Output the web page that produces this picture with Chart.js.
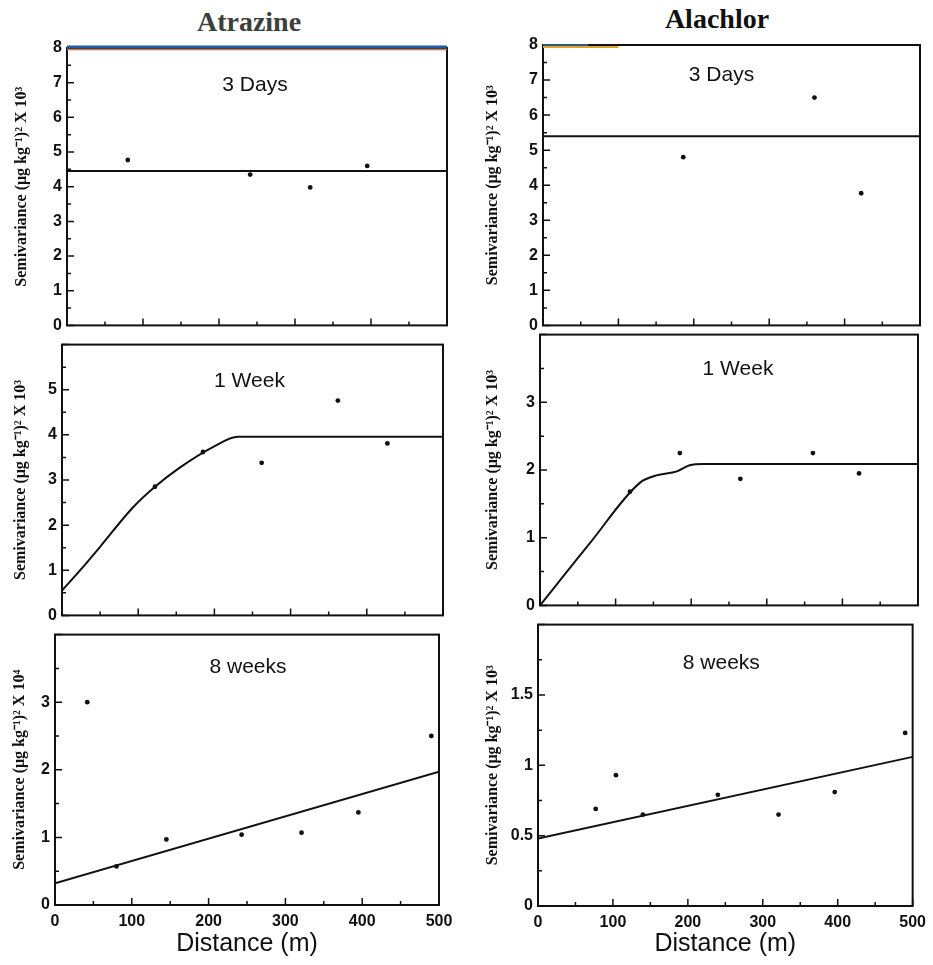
<!DOCTYPE html>
<html>
<head>
<meta charset="utf-8">
<script src="https://cdn.jsdelivr.net/npm/chart.js@4"></script>
<style>
  body { margin: 0; background: #fff; }
  #page { position: relative; width: 933px; height: 965px; overflow: hidden; background: #fff; }
  .panel { position: absolute; }
  .compound {
    position: absolute; transform: translateX(-50%); white-space: nowrap;
    font-family: "Liberation Serif", serif; font-weight: bold; font-size: 28px; line-height: 32px;
  }
</style>
</head>
<body>
<div id="page">
  <div class="compound" style="left:249px; top:6px; color:#3b403d">Atrazine</div>
  <div class="compound" style="left:717px; top:3px; color:#111">Alachlor</div>

  <div class="panel" style="left:0; top:0; width:465px; height:340px"><canvas id="atr3d"></canvas></div>
  <div class="panel" style="left:0; top:330px; width:465px; height:300px"><canvas id="atr1w"></canvas></div>
  <div class="panel" style="left:0; top:620px; width:465px; height:345px"><canvas id="atr8w"></canvas></div>

  <div class="panel" style="left:466px; top:0; width:467px; height:340px"><canvas id="ala3d"></canvas></div>
  <div class="panel" style="left:466px; top:320px; width:467px; height:300px"><canvas id="ala1w"></canvas></div>
  <div class="panel" style="left:466px; top:610px; width:467px; height:355px"><canvas id="ala8w"></canvas></div>
</div>

<script>
// distance ticks (m)
const xTickLabels = [0, 100, 200, 300, 400, 500];

// Atrazine, 3 days
const atr3dDist = [80, 241, 320, 395];
const atr3dSemi = [4.77, 4.35, 3.98, 4.6];
const atr3dModelDist = [0, 500];
const atr3dModelSemi = [4.45, 4.45];

// Atrazine, 1 week
const atr1wDist = [122, 185, 262, 362, 427];
const atr1wSemi = [2.85, 3.62, 3.38, 4.76, 3.81];
const atr1wModelDist = [0, 28, 50, 93, 122, 155, 198, 231, 500];
const atr1wModelSemi = [0.55, 1.08, 1.52, 2.39, 2.85, 3.28, 3.73, 3.96, 3.96];

// Atrazine, 8 weeks
const atr8wDist = [42, 80, 145, 243, 321, 395, 490];
const atr8wSemi = [3.0, 0.57, 0.97, 1.04, 1.07, 1.37, 2.5];
const atr8wModelDist = [0, 500];
const atr8wModelSemi = [0.32, 1.97];

// Alachlor, 3 days
const ala3dDist = [186, 360, 422];
const ala3dSemi = [4.8, 6.5, 3.77];
const ala3dModelDist = [0, 500];
const ala3dModelSemi = [5.4, 5.4];

// Alachlor, 1 week
const ala1wDist = [119, 185, 265, 361, 422];
const ala1wSemi = [1.68, 2.25, 1.87, 2.25, 1.95];
const ala1wModelDist = [0, 66, 132, 154, 181, 198, 216, 500];
const ala1wModelSemi = [0, 0.92, 1.81, 1.92, 1.98, 2.07, 2.09, 2.09];

// Alachlor, 8 weeks
const ala8wDist = [77, 104, 140, 240, 321, 396, 490];
const ala8wSemi = [0.69, 0.93, 0.65, 0.79, 0.65, 0.81, 1.23];
const ala8wModelDist = [0, 500];
const ala8wModelSemi = [0.48, 1.06];

const pts = (xs, ys) => xs.map((x, i) => ({ x: x, y: ys[i] }));
const near = (v, step) => Math.abs(v / step - Math.round(v / step)) < 1e-6;

// box, inward ticks and the panel caption
const framePlugin = {
  id: 'frame',
  afterDatasetsDraw(chart, args, opts) {
    const { ctx, chartArea: a } = chart;
    const xs = chart.scales.x, ys = chart.scales.y;
    ctx.save();
    ctx.strokeStyle = '#111';
    ctx.lineWidth = 2;
    ctx.strokeRect(a.left, a.top, a.right - a.left, a.bottom - a.top);

    ctx.lineWidth = 1.5;
    ctx.beginPath();
    ys.ticks.forEach(t => {
      const py = ys.getPixelForValue(t.value);
      const len = near(t.value, opts.yMajor) ? 7 : 4;
      ctx.moveTo(a.left, py);
      ctx.lineTo(a.left + len, py);
    });
    xs.ticks.forEach(t => {
      const px = xs.getPixelForValue(t.value);
      const len = near(t.value, 100) ? 7 : 4;
      ctx.moveTo(px, a.bottom);
      ctx.lineTo(px, a.bottom - len);
    });
    ctx.stroke();

    (opts.stripes || []).forEach(s => {
      ctx.strokeStyle = s.color;
      ctx.lineWidth = s.width;
      ctx.beginPath();
      ctx.moveTo(a.left + (a.right - a.left) * s.from, a.top + s.offset);
      ctx.lineTo(a.left + (a.right - a.left) * s.to, a.top + s.offset);
      ctx.stroke();
    });

    ctx.fillStyle = '#111';
    ctx.font = '21px "Liberation Sans", Arial, sans-serif';
    ctx.textAlign = 'center';
    ctx.textBaseline = 'middle';
    ctx.fillText(opts.text, (a.left + a.right) / 2 + opts.dx, a.top + opts.dy);
    ctx.restore();
  }
};

function makePanel(id, p) {
  const ctx = document.getElementById(id).getContext('2d');
  return new Chart(ctx, {
    type: 'scatter',
    data: {
      datasets: [
        {
          data: pts(p.dist, p.semi),
          pointRadius: 2.4,
          pointBackgroundColor: '#111',
          pointBorderWidth: 0
        },
        {
          data: pts(p.modelDist, p.modelSemi),
          showLine: true,
          borderColor: '#111',
          borderWidth: 2,
          pointRadius: 0,
          cubicInterpolationMode: p.smooth ? 'monotone' : 'default'
        }
      ]
    },
    options: {
      responsive: true,
      maintainAspectRatio: false,
      animation: false,
      events: [],
      layout: { padding: { left: 0, top: p.padTop, right: p.padRight, bottom: p.padBottom } },
      plugins: {
        legend: { display: false },
        tooltip: { enabled: false },
        frame: { text: p.label, dx: p.labelDx, dy: p.labelDy, yMajor: p.yMajor, stripes: p.stripes }
      },
      scales: {
        x: {
          type: 'linear',
          min: 0,
          max: 500,
          grid: { display: false, drawTicks: false, tickLength: 0 },
          border: { display: false },
          ticks: {
            display: p.showX,
            stepSize: 50,
            autoSkip: false,
            maxRotation: 0,
            padding: 7,
            color: '#111',
            font: { family: '"Liberation Sans", Arial, sans-serif', size: 16, weight: 'bold' },
            callback: v => xTickLabels.includes(v) ? String(v) : ''
          },
          title: {
            display: p.showX,
            text: 'Distance (m)',
            color: '#111',
            padding: { top: 0, bottom: 6 },
            font: { family: '"Liberation Sans", Arial, sans-serif', size: 25 }
          },
          afterFit: s => { s.height = p.xHeight; }
        },
        y: {
          min: 0,
          max: p.yMax,
          grid: { display: false, drawTicks: false, tickLength: 0 },
          border: { display: false },
          ticks: {
            stepSize: p.yStep,
            autoSkip: false,
            padding: 5,
            color: '#111',
            font: { family: '"Liberation Sans", Arial, sans-serif', size: 16, weight: 'bold' },
            callback: v => (near(v, p.yMajor) && v <= p.yLabelMax + 1e-9) ? String(v) : ''
          },
          title: {
            display: true,
            text: p.yTitle,
            color: '#111',
            padding: { top: p.yTitlePad, bottom: 0 },
            font: { family: '"Liberation Serif", "Times New Roman", serif', size: 16, weight: 'bold' }
          },
          afterFit: s => { s.width = p.yWidth; }
        }
      }
    },
    plugins: [framePlugin]
  });
}

const title3 = 'Semivariance (\u03bcg kg\u207b\u00b9)\u00b2 X 10\u00b3';
const title4 = 'Semivariance (\u03bcg kg\u207b\u00b9)\u00b2 X 10\u2074';

document.addEventListener('DOMContentLoaded', () => {
  makePanel('atr3d', {
    dist: atr3dDist, semi: atr3dSemi, modelDist: atr3dModelDist, modelSemi: atr3dModelSemi,
    yMax: 8, yStep: 0.5, yMajor: 1, yLabelMax: 8, yTitle: title3, yTitlePad: 12.4,
    label: '3 Days', labelDx: -2, labelDy: 37,
    padTop: 48, padBottom: 9, padRight: 18, yWidth: 67, xHeight: 0, showX: false,
    stripes: [{ color: '#1e5aa6', width: 3, offset: -1, from: 0, to: 1 }, { color: '#c9703f', width: 1.5, offset: 1.5, from: 0, to: 1 }]
  });
  makePanel('atr1w', {
    dist: atr1wDist, semi: atr1wSemi, modelDist: atr1wModelDist, modelSemi: atr1wModelSemi, smooth: true,
    yMax: 6, yStep: 0.5, yMajor: 1, yLabelMax: 5, yTitle: title3, yTitlePad: 11,
    label: '1 Week', labelDx: -3, labelDy: 37,
    padTop: 3, padBottom: 6, padRight: 22, yWidth: 62, xHeight: 0, showX: false
  });
  makePanel('atr8w', {
    dist: atr8wDist, semi: atr8wSemi, modelDist: atr8wModelDist, modelSemi: atr8wModelSemi,
    yMax: 4, yStep: 0.5, yMajor: 1, yLabelMax: 3, yTitle: title4, yTitlePad: 10,
    label: '8 weeks', labelDx: 1, labelDy: 33,
    padTop: 4, padBottom: 0, padRight: 26, yWidth: 55, xHeight: 60, showX: true
  });
  makePanel('ala3d', {
    dist: ala3dDist, semi: ala3dSemi, modelDist: ala3dModelDist, modelSemi: ala3dModelSemi,
    yMax: 8, yStep: 0.5, yMajor: 1, yLabelMax: 8, yTitle: title3, yTitlePad: 17.4,
    label: '3 Days', labelDx: -10, labelDy: 30,
    padTop: 45, padBottom: 13, padRight: 13, yWidth: 77, xHeight: 0, showX: false,
    stripes: [{ color: '#d9a52a', width: 2, offset: 2, from: 0, to: 0.2 }, { color: '#3b6ea8', width: 1.5, offset: 0, from: 0, to: 0.12 }]
  });
  makePanel('ala1w', {
    dist: ala1wDist, semi: ala1wSemi, modelDist: ala1wModelDist, modelSemi: ala1wModelSemi, smooth: true,
    yMax: 4, yStep: 0.5, yMajor: 1, yLabelMax: 3, yTitle: title3, yTitlePad: 17.4,
    label: '1 Week', labelDx: 9, labelDy: 35,
    padTop: 5, padBottom: 7, padRight: 15, yWidth: 74, xHeight: 0, showX: false
  });
  makePanel('ala8w', {
    dist: ala8wDist, semi: ala8wSemi, modelDist: ala8wModelDist, modelSemi: ala8wModelSemi,
    yMax: 2, yStep: 0.25, yMajor: 0.5, yLabelMax: 1.5, yTitle: title3, yTitlePad: 17.4,
    label: '8 weeks', labelDx: -4, labelDy: 39,
    padTop: 4, padBottom: 0, padRight: 18, yWidth: 72, xHeight: 59, showX: true
  });
});
</script>
</body>
</html>
